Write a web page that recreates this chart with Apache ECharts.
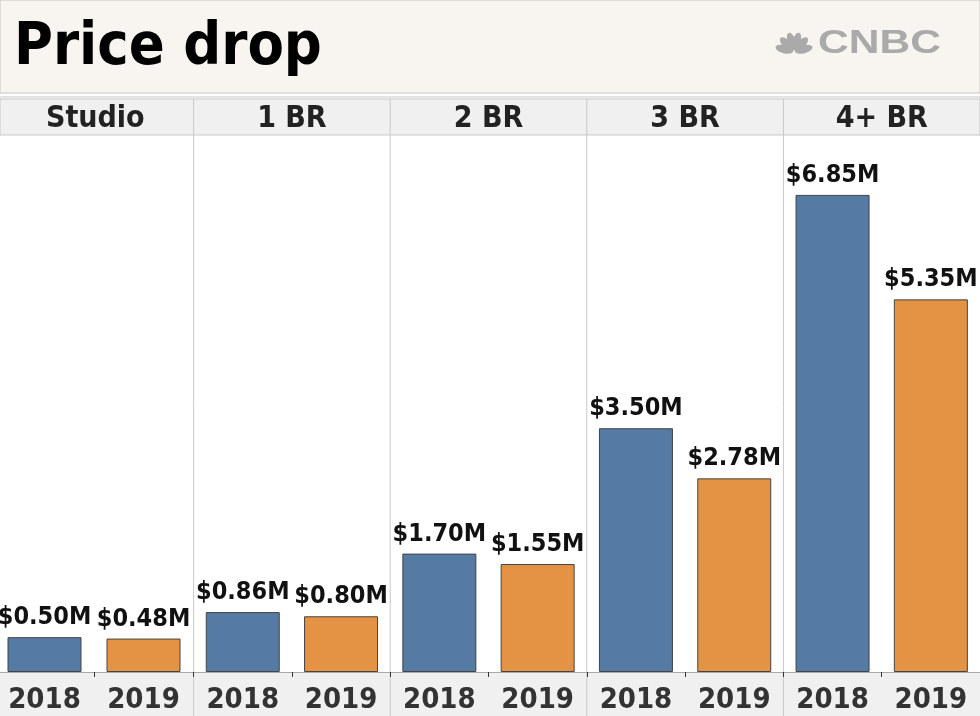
<!DOCTYPE html>
<html><head><meta charset="utf-8">
<script src="https://cdn.jsdelivr.net/npm/echarts@6/dist/echarts.min.js"></script>
<style>html,body{margin:0;padding:0;background:#fff;overflow:hidden}#c{width:990px;height:716px;position:relative;left:-10px}</style>
</head><body><div id="c"></div>
<script>
const categories = ['Studio', '1 BR', '2 BR', '3 BR', '4+ BR'];
const years = ['2018', '2019'];
const values2018 = [0.50, 0.86, 1.70, 3.50, 6.85];
const values2019 = [0.48, 0.80, 1.55, 2.78, 5.35];

const chart = echarts.init(document.getElementById('c'));
const OX = 10; // chart container is shifted 10px left of the page
const W = 990, H = 716;
const panelStart = -3, panelW = 196.6;
const plotTop = 135, plotBottom = 672;
const FONT = '"DejaVu Sans Condensed", "DejaVu Sans", sans-serif';

const grids = [], xAxes = [], yAxes = [], series = [];
categories.forEach((c, i) => {
  let left = panelStart + i * panelW, width = panelW;
  if (i === 0) { left = -5; width = 198; }
  grids.push({left: left + OX, width: width, top: plotTop, bottom: H - plotBottom, containLabel: false});
  xAxes.push({
    type: 'category', gridIndex: i, data: years,
    axisLine: {show: true, lineStyle: {color: '#aaa'}},
    axisTick: {show: true, length: 5, lineStyle: {color: '#333'}},
    axisLabel: {color: '#333', fontWeight: 'bold', fontSize: 29, fontFamily: FONT, margin: 14}
  });
  yAxes.push({type: 'value', gridIndex: i, min: 0, max: 7.71, show: false, splitLine: {show: false}});
  series.push({
    type: 'bar', xAxisIndex: i, yAxisIndex: i, barWidth: 74,
    data: [
      {value: values2018[i], itemStyle: {color: '#557aa3'}},
      {value: values2019[i], itemStyle: {color: '#e49244'}}
    ],
    itemStyle: {borderColor: '#444', borderWidth: 1},
    label: {show: true, position: 'top', distance: 7, color: '#111', fontWeight: 'bold', fontSize: 25, fontFamily: FONT,
      formatter: p => '$' + p.value.toFixed(2) + 'M'},
    silent: true
  });
});

const graphic = [
  {type: 'rect', shape: {x: OX, y: 0, width: 980, height: 93}, style: {fill: '#f8f4ef', stroke: '#c8c4bf', lineWidth: 1}, z: -10},
  {type: 'line', shape: {x1: OX, y1: 97, x2: W, y2: 97}, style: {stroke: '#c8c8c8', lineWidth: 1}, z: -9},
  {type: 'rect', shape: {x: OX, y: 99, width: 980, height: 36}, style: {fill: '#f0f0f0', stroke: '#c8c8c8', lineWidth: 1}, z: -10},
  {type: 'rect', shape: {x: OX, y: plotBottom, width: 980, height: H - plotBottom}, style: {fill: '#f0f0f0'}, z: -10},
  {type: 'text', x: 14 + OX, y: 19, style: {text: 'Price drop', fontSize: 59, fontWeight: 'bold', fontFamily: FONT, fill: '#000'}},
  {type: 'text', x: 818 + OX, y: 44, scaleX: 1.29, originX: 0, originY: 0, style: {text: 'CNBC', fontSize: 33, fontWeight: 900, fontFamily: '"Liberation Sans", Arial, sans-serif', fill: '#aaa', textVerticalAlign: 'middle'}}
];
// peacock approximation
for (let k = 0; k < 6; k++) {
  const ang = Math.PI * (0.08 + 0.84 * k / 5);
  const cx = 794 + OX - Math.cos(ang) * 10, cy = 52 - Math.sin(ang) * 11;
  graphic.push({type: 'ellipse', shape: {cx: cx, cy: cy, rx: 4, ry: 9}, rotation: Math.PI / 2 - ang,
    originX: cx, originY: cy, style: {fill: '#aaa'}});
}
categories.forEach((c, i) => {
  const x0 = panelStart + i * panelW + OX;
  graphic.push({type: 'text', x: x0 + panelW / 2, y: 119, style: {text: c, fontSize: 30, fontWeight: 'bold', fontFamily: FONT, fill: '#222', textAlign: 'center', textVerticalAlign: 'middle'}});
  if (i > 0) graphic.push({type: 'line', shape: {x1: x0, y1: 99, x2: x0, y2: H}, style: {stroke: '#c8c8c8', lineWidth: 1}, z: -5});
});

chart.setOption({animation: false, grid: grids, xAxis: xAxes, yAxis: yAxes, series, graphic});
</script></body></html>
